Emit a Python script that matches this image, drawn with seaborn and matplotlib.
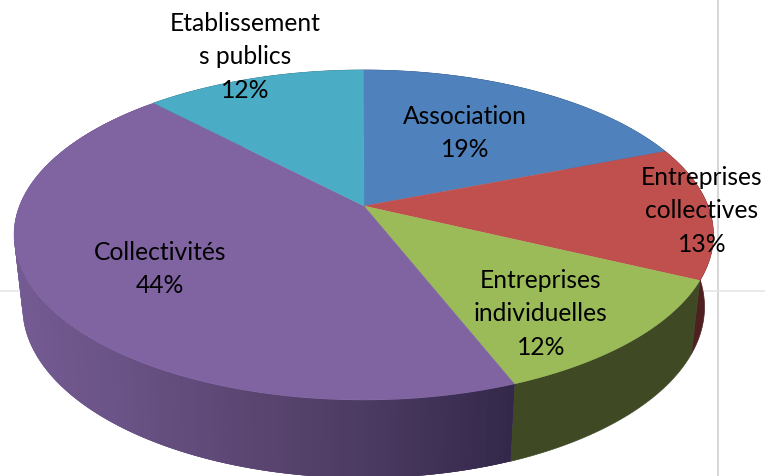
import numpy as np
import matplotlib
matplotlib.use("Agg")
import matplotlib.pyplot as plt
import seaborn as sns

# --- data ---
categories = ["Association", "Entreprises\ncollectives", "Entreprises\nindividuelles",
              "Collectivités", "Etablissement\ns publics"]
shares = [19, 13, 12, 44, 12]
top_colors = ["#4f81bd", "#c0504d", "#9bbb59", "#8064a2", "#4bacc6"]
side_colors = ["#2f4d71", "#4e2020", "#3f4a25", "#4d3c62", "#2d6776"]
purple_side_ramp = ["#745b93", "#6a5386", "#5e4977", "#534068", "#44345a", "#33284a"]
label_xy = [(465, 133), (702, 211), (541, 314), (160, 269), (245, 57)]

# --- projection of the perspective disc ---
TOP = dict(cx=363.7, cy=236, rx=349.7, ry=165)
BOTTOM = dict(cx=363.5, cy=308, rx=341, ry=171)
TILT = 0.17


def rim(theta, e):
    u, v = np.sin(theta), np.cos(theta)
    d = 1 + TILT * v
    X = u * np.sqrt(1 - TILT ** 2) / d
    Y = (v + TILT) / d
    return e["cx"] + e["rx"] * X, e["cy"] - e["ry"] * Y


sns.set_theme(style="white")
plt.rcParams["font.family"] = ["Lato", "DejaVu Sans"]
fig = plt.figure(figsize=(7.65, 4.77), dpi=100)
ax = fig.add_axes([0, 0, 1, 1])
ax.set_xlim(0, 765)
ax.set_ylim(477, 0)
ax.axis("off")

# worksheet gridlines behind the chart
ax.axvline(718, color="#d6d6d6", lw=1.4, zorder=0)
ax.axhline(292, color="#e6e6e6", lw=1.2, zorder=0)

fractions = np.array(shares, dtype=float) / sum(shares)
edges = np.concatenate([[0], np.cumsum(fractions)]) * 2 * np.pi
apex = (364, 207)

# side walls, back to front
order = [0, 4, 1, 2, 3]
for i in order:
    a0, a1 = edges[i], edges[i + 1]
    n = max(int((a1 - a0) * 60), 4)
    if categories[i] == "Collectivités":
        t = np.linspace(a0, a1, 161)
        ramp = sns.blend_palette(purple_side_ramp, n_colors=256)
        # left-hand strips first; each one overlaps its neighbour to avoid seams
        for k in range(len(t) - 2, -1, -1):
            seg = np.linspace(t[k], t[min(k + 1, len(t) - 1)], 3)
            wide = np.linspace(t[max(k - 2, 0)], t[k + 1], 5)
            xt, yt = rim(wide, TOP)
            xb, yb = rim(wide[::-1], BOTTOM)
            px = np.concatenate([xt, xb])
            py = np.concatenate([yt, yb])
            frac = np.clip((rim(seg, TOP)[0].mean() - 14) / (513 - 14), 0, 1)
            c = ramp[int(frac * 255)]
            ax.fill(px, py, color=c, lw=0, zorder=2)
    else:
        t = np.linspace(a0, a1, n)
        xt, yt = rim(t, TOP)
        xb, yb = rim(t[::-1], BOTTOM)
        ax.fill(np.concatenate([xt, xb]), np.concatenate([yt, yb]),
                color=side_colors[i], lw=0.5, zorder=2)

# top surface
for i in range(len(shares)):
    t = np.linspace(edges[i], edges[i + 1], 200)
    x, y = rim(t, TOP)
    ax.fill(np.concatenate([[apex[0]], x]), np.concatenate([[apex[1]], y]),
            color=top_colors[i], lw=0.3, zorder=3)

# labels
for name, share, (lx, ly) in zip(categories, shares, label_xy):
    ax.text(lx, ly, f"{name}\n{share}%", ha="center", va="center", color="black",
            fontsize=17.7, linespacing=1.53, zorder=5)

fig.savefig("out.png", dpi=100)
